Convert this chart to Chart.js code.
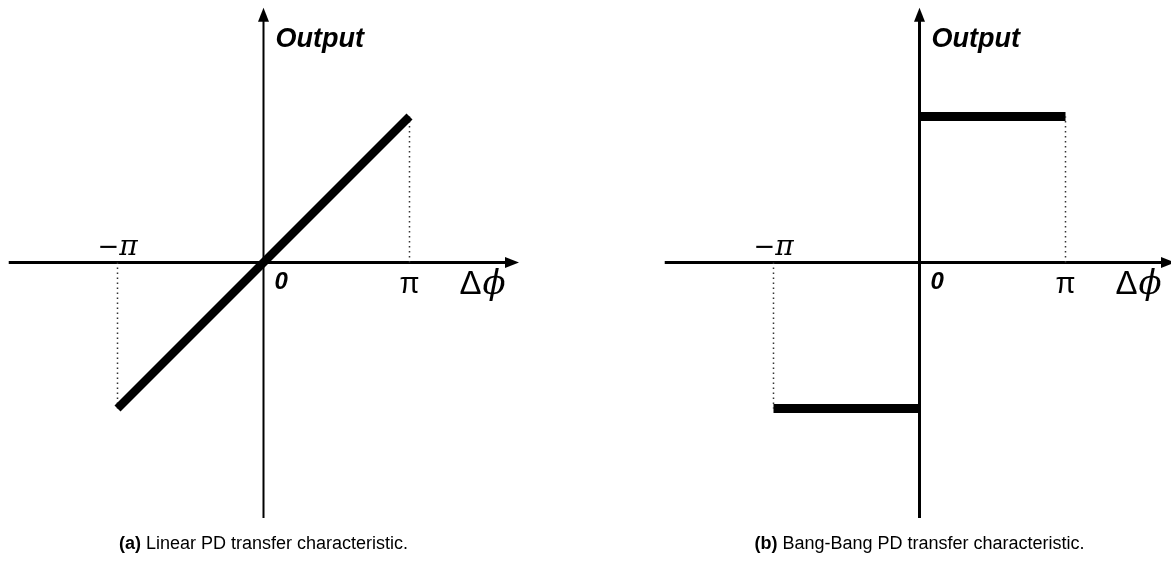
<!DOCTYPE html>
<html>
<head>
<meta charset="utf-8">
<script src="https://cdn.jsdelivr.net/npm/chart.js@4/dist/chart.umd.min.js"></script>
<style>
  html, body { margin: 0; padding: 0; background: #fff; overflow: hidden; width: 1171px; height: 566px; }
  canvas { position: absolute; top: 0; }
  #linearPD { left: 0; }
  #bangPD { left: 656px; }
</style>
</head>
<body>
<canvas id="linearPD" width="585" height="566"></canvas>
<canvas id="bangPD" width="585" height="566"></canvas>
<script>
// Phase error Δφ in units of π, detector output normalised to ±1.
const phaseTicks = [-1, 0, 1];
const phaseTickLabels = ['−π', '0', 'π'];

// (a) linear phase detector
const linearPhase = [-1, 1];
const linearOutput = [-1, 1];

// (b) bang-bang phase detector: two constant levels
const bangLowPhase = [-1, 0];
const bangHighPhase = [0, 1];
const bangLevels = [-1, 1];

// extent of the drawn axes (same units as the data)
const axisXExtent = [-1.745, 1.75];
const axisYExtent = [-1.75, 1.745];

const captionTags = ['(a)', '(b)'];
const captionTexts = [' Linear PD transfer characteristic.', ' Bang-Bang PD transfer characteristic.'];

// canvas geometry: origin position and pixels per unit
const ORIGIN_X = 263.5, ORIGIN_Y = 262.5, UNIT = 146, W = 585, H = 566;
const xMin = -ORIGIN_X / UNIT, xMax = (W - ORIGIN_X) / UNIT;
const yMax = ORIGIN_Y / UNIT, yMin = -(H - ORIGIN_Y) / UNIT;

const SANS = '"Liberation Sans", Arial, Helvetica, sans-serif';

const axesPlugin = {
  id: 'pdAxes',
  beforeDatasetsDraw(chart, args, opts) {
    const { ctx, scales: { x, y } } = chart;
    const x0 = x.getPixelForValue(0), y0 = y.getPixelForValue(0);
    ctx.save();
    ctx.strokeStyle = '#000';
    ctx.fillStyle = '#000';
    ctx.lineCap = 'butt';

    // horizontal Δφ axis with arrow head
    const xa = x.getPixelForValue(axisXExtent[0]);
    const xb = x.getPixelForValue(axisXExtent[1]);
    ctx.lineWidth = 3;
    ctx.beginPath(); ctx.moveTo(xa, y0); ctx.lineTo(xb - 8, y0); ctx.stroke();
    ctx.beginPath();
    ctx.moveTo(xb, y0); ctx.lineTo(xb - 14, y0 - 5.5); ctx.lineTo(xb - 14, y0 + 5.5);
    ctx.closePath(); ctx.fill();

    // vertical output axis with arrow head
    const ya = y.getPixelForValue(axisYExtent[0]);
    const yb = y.getPixelForValue(axisYExtent[1]);
    ctx.lineWidth = opts.yAxisWidth || 2;
    ctx.beginPath(); ctx.moveTo(x0, ya); ctx.lineTo(x0, yb + 8); ctx.stroke();
    ctx.beginPath();
    ctx.moveTo(x0, yb); ctx.lineTo(x0 - 5.5, yb + 14); ctx.lineTo(x0 + 5.5, yb + 14);
    ctx.closePath(); ctx.fill();
    ctx.restore();
  },
  afterDraw(chart, args, opts) {
    const { ctx, scales: { x, y } } = chart;
    const x0 = x.getPixelForValue(0), y0 = y.getPixelForValue(0);
    ctx.save();
    ctx.fillStyle = '#000';
    ctx.textBaseline = 'alphabetic';

    // axis title
    ctx.font = 'italic bold 27px ' + SANS;
    ctx.textAlign = 'left';
    ctx.fillText('Output', x0 + 12, 47);

    // tick labels
    phaseTicks.forEach((t, i) => {
      const px = x.getPixelForValue(t);
      const label = phaseTickLabels[i];
      if (t === 0) {
        ctx.font = 'italic bold 24px ' + SANS;
        ctx.textAlign = 'left';
        ctx.fillText(label, px + 11, y0 + 26);
      } else if (t < 0) {
        // minus sign and π set separately so the minus keeps its math width
        const minus = label.slice(0, 1), rest = label.slice(1);
        ctx.textAlign = 'left';
        ctx.font = '26px "DejaVu Sans", sans-serif';
        const mw = ctx.measureText(minus).width;
        ctx.font = 'italic 28px "DejaVu Serif", serif';
        const rw = ctx.measureText(rest).width;
        const sx = px - (mw + rw) / 2;
        ctx.font = '26px "DejaVu Sans", sans-serif';
        ctx.fillText(minus, sx, y0 - 8);
        ctx.font = 'italic 28px "DejaVu Serif", serif';
        ctx.fillText(rest, sx + mw, y0 - 8);
      } else {
        ctx.font = '29px ' + SANS;
        ctx.textAlign = 'center';
        ctx.fillText(label, px, y0 + 30);
      }
    });

    // Δφ axis name
    ctx.textAlign = 'left';
    ctx.font = '33px ' + SANS;
    const dx = x0 + 196;
    ctx.fillText('Δ', dx, y0 + 31);
    const dw = ctx.measureText('Δ').width;
    ctx.font = 'italic 34px "DejaVu Serif", serif';
    ctx.fillText('ϕ', dx + dw + 1, y0 + 31);

    // caption
    const tag = captionTags[opts.index], text = captionTexts[opts.index];
    ctx.font = 'bold 18px ' + SANS;
    const tw = ctx.measureText(tag).width;
    ctx.font = '18px ' + SANS;
    const rw = ctx.measureText(text).width;
    const cx = x0 - (tw + rw) / 2;
    ctx.font = 'bold 18px ' + SANS;
    ctx.fillText(tag, cx, 549);
    ctx.font = '18px ' + SANS;
    ctx.fillText(text, cx + tw, 549);
    ctx.restore();
  }
};

function toPoints(xs, ys) { return xs.map((v, i) => ({ x: v, y: ys[i] })); }

function guide(px, py) {
  return {
    data: [{ x: px, y: 0 }, { x: px, y: py }],
    borderColor: '#333',
    borderWidth: 1.5,
    borderDash: [1.5, 3.5],
    pointRadius: 0,
    showLine: true,
    order: 2
  };
}

function thick(points, width) {
  return {
    data: points,
    borderColor: '#000',
    borderWidth: width,
    borderCapStyle: 'butt',
    pointRadius: 0,
    showLine: true,
    order: 1
  };
}

function makeChart(id, datasets, index, yAxisWidth) {
  return new Chart(document.getElementById(id), {
    type: 'scatter',
    data: { datasets },
    options: {
      responsive: false,
      animation: false,
      devicePixelRatio: 1,
      layout: { padding: 0 },
      events: [],
      scales: {
        x: { type: 'linear', min: xMin, max: xMax, display: false },
        y: { type: 'linear', min: yMin, max: yMax, display: false }
      },
      plugins: {
        legend: { display: false },
        tooltip: { enabled: false },
        pdAxes: { index, yAxisWidth }
      }
    },
    plugins: [axesPlugin]
  });
}

// (a) linear detector
makeChart('linearPD', [
  guide(linearPhase[0], linearOutput[0]),
  guide(linearPhase[1], linearOutput[1]),
  thick(toPoints(linearPhase, linearOutput), 8.5)
], 0, 2);

// (b) bang-bang detector
makeChart('bangPD', [
  guide(bangLowPhase[0], bangLevels[0]),
  guide(bangHighPhase[1], bangLevels[1]),
  thick(toPoints(bangLowPhase, [bangLevels[0], bangLevels[0]]), 9),
  thick(toPoints(bangHighPhase, [bangLevels[1], bangLevels[1]]), 9)
], 1, 3);
</script>
</body>
</html>
